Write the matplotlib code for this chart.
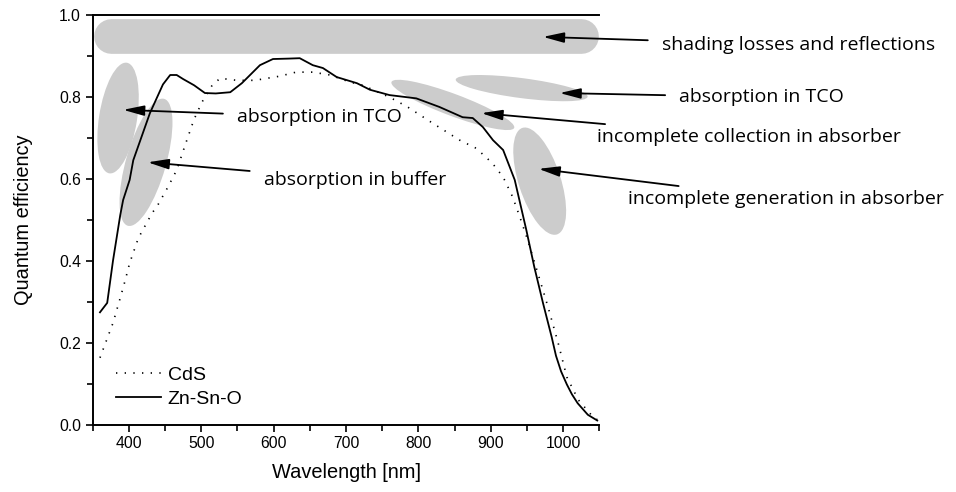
import numpy as np
import matplotlib
matplotlib.use("Agg")
import matplotlib.pyplot as plt
import matplotlib.transforms as mtransforms
from matplotlib.patches import Ellipse
from matplotlib.ticker import MultipleLocator, FormatStrFormatter

# quantum efficiency
wl_cds = [360, 378, 388, 395, 401, 413, 432, 440, 454, 466, 480, 490, 501, 515, 526, 549,
          574, 608, 631, 654, 678, 705, 723, 760, 785, 820, 857, 880, 902, 917, 930, 940,
          951, 965, 979, 993, 1005, 1021, 1041, 1047]
qe_cds = [0.163, 0.248, 0.309, 0.353, 0.394, 0.455, 0.516, 0.536, 0.580, 0.621, 0.694, 0.745,
          0.787, 0.828, 0.845, 0.840, 0.840, 0.850, 0.860, 0.860, 0.853, 0.836, 0.828, 0.799,
          0.775, 0.735, 0.694, 0.674, 0.638, 0.604, 0.556, 0.507, 0.450, 0.369, 0.287, 0.199,
          0.116, 0.060, 0.019, 0.012]

wl_zto = [360, 370, 378, 388, 392, 401, 406, 429, 447, 457, 466, 475, 490, 505, 520, 540,
          556, 581, 599, 620, 636, 654, 668, 687, 715, 733, 760, 797, 829, 861, 875, 889,
          903, 917, 926, 933, 949, 960, 972, 984, 990, 997, 1005, 1012, 1020, 1034, 1047]
qe_zto = [0.274, 0.297, 0.400, 0.511, 0.548, 0.597, 0.645, 0.760, 0.830, 0.853, 0.853, 0.843,
          0.828, 0.809, 0.808, 0.811, 0.833, 0.877, 0.892, 0.893, 0.894, 0.877, 0.870, 0.848,
          0.833, 0.817, 0.804, 0.796, 0.775, 0.750, 0.748, 0.726, 0.694, 0.670, 0.629, 0.597,
          0.475, 0.385, 0.297, 0.214, 0.168, 0.130, 0.098, 0.074, 0.052, 0.024, 0.010]

# loss regions: centre (nm, QE), size (px), angle (deg)
loss_shapes = [
    ((385, 0.748), 38, 112, -9),
    ((423.6, 0.640), 40, 132, -16),
    ((942.6, 0.821), 133, 20, -7.4),
    ((847.5, 0.780), 131, 22, -20.5),
    ((967.5, 0.594), 42, 112, 18),
]

# label text, arrow head (nm, QE), text position (nm, QE)
loss_labels = [
    ("shading losses and reflections", (972, 0.946), (1136, 0.926)),
    ("absorption in TCO", (995, 0.809), (1160, 0.799)),
    ("incomplete collection in absorber", (887, 0.760), (1046, 0.702)),
    ("incomplete generation in absorber", (966, 0.624), (1089, 0.550)),
    ("absorption in TCO", (392, 0.768), (549, 0.750)),
    ("absorption in buffer", (426, 0.640), (586, 0.597)),
]

fig = plt.figure(figsize=(9.56, 4.92), dpi=100)
ax = fig.add_axes([0.097, 0.137, 0.530, 0.833])

gray = "#cccccc"
# shading band across the top
ax.plot([375.5, 1024], [0.949, 0.949], color=gray, lw=25, solid_capstyle="round", zorder=1)

for (cx, cy), w, h, ang in loss_shapes:
    tr = fig.dpi_scale_trans + mtransforms.ScaledTranslation(cx, cy, ax.transData)
    ax.add_patch(Ellipse((0, 0), w / 100, h / 100, angle=ang, transform=tr,
                         facecolor=gray, edgecolor="none", zorder=1))

ax.plot(wl_cds, qe_cds, color="black", lw=1.2, linestyle=(0, (0.8, 4.4)),
        label="CdS", zorder=3)
ax.plot(wl_zto, qe_zto, color="black", lw=1.3, label="Zn-Sn-O", zorder=3)

for txt, head, pos in loss_labels:
    ax.annotate(txt, xy=head, xytext=pos, textcoords="data", annotation_clip=False,
                fontsize=14, family="Open Sans", va="center", ha="left",
                arrowprops=dict(arrowstyle="-|>,head_length=0.9,head_width=0.22",
                                color="black", lw=1.3, shrinkA=8, shrinkB=0),
                zorder=4)

ax.set_xlim(350, 1050)
ax.set_ylim(0, 1.0)
ax.xaxis.set_minor_locator(MultipleLocator(50))
ax.yaxis.set_major_locator(MultipleLocator(0.2))
ax.yaxis.set_minor_locator(MultipleLocator(0.1))
ax.set_xticks([400, 500, 600, 700, 800, 900, 1000])
ax.yaxis.set_major_formatter(FormatStrFormatter("%.1f"))
ax.tick_params(which="both", direction="out", width=1.2, labelsize=11.3)
ax.tick_params(which="major", length=5)
ax.tick_params(which="minor", length=4)
ax.tick_params(axis="x", which="both", top=False)
for lab in ax.get_xticklabels() + ax.get_yticklabels():
    lab.set_family("Liberation Sans")
ax.spines["right"].set_visible(False)
for s in ["left", "bottom", "top"]:
    ax.spines[s].set_linewidth(1.4)

ax.set_xlabel("Wavelength [nm]", family="Liberation Sans", fontsize=14.4, labelpad=8)
ax.set_ylabel("Quantum efficiency", family="Liberation Sans", fontsize=14.4, labelpad=19)

leg = ax.legend(loc="lower left", bbox_to_anchor=(0.046, 0.04), frameon=False,
                prop={"family": "Liberation Sans", "size": 14}, handlelength=2.3,
                handletextpad=0.35, labelspacing=0.35, borderpad=0, borderaxespad=0)

fig.savefig("out.png", dpi=100)
